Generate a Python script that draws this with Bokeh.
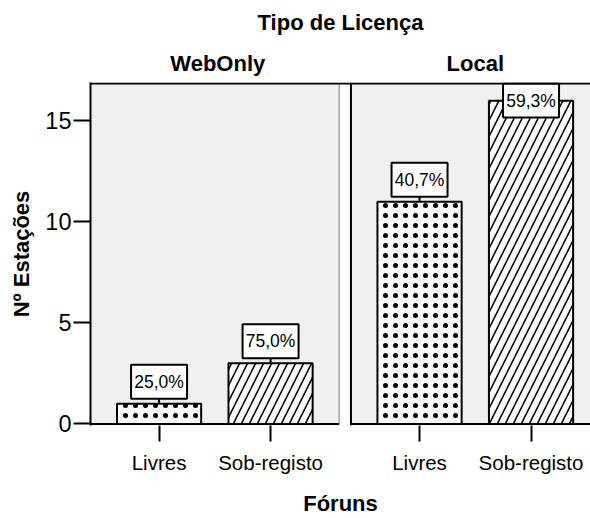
from bokeh.plotting import figure
from bokeh.models import Range1d, FixedTicker, LinearAxis
from bokeh.embed import file_html
from bokeh.resources import INLINE
from bokeh.core.properties import value

# ---------------- data ----------------
licence_types = ["WebOnly", "Local"]
forum_types = ["Livres", "Sob-registo"]
counts = {"WebOnly": [1, 3], "Local": [11, 16]}
percent_labels = {"WebOnly": ["25,0%", "75,0%"], "Local": ["40,7%", "59,3%"]}
y_ticks = [0, 5, 10, 15]

chart_title = "Tipo de Licença"
x_title = "Fóruns"
y_title = "Nº Estações"

# ---------------- layout / style ----------------
PAD = 0.115          # padding at each side of a panel (category units)
GROUP_GAP = 0.336    # gap between the two panels
BAR_W = 0.755
Y_START, Y_END = -0.075, 16.9
FIG_W, FIG_H = 590, 518
BORDER_L, BORDER_T, BORDER_B = 90, 82, 93
FRAME_H = FIG_H - BORDER_T - BORDER_B
PPU_Y = FRAME_H / (Y_END - Y_START)
FRAME_W = FIG_W - BORDER_L
X_START = -PAD
X_END = X_START + FRAME_W / 111.5

FONT = "Liberation Sans"
PANEL_BG = "#f0f0f0"

n_cat = len(forum_types)
panel_offsets = [k * (n_cat + GROUP_GAP) for k in range(len(licence_types))]

p = figure(width=FIG_W, height=FIG_H, output_backend="svg", toolbar_location=None,
           x_range=Range1d(X_START, X_END), y_range=Range1d(Y_START, Y_END),
           min_border_left=BORDER_L, min_border_right=0,
           min_border_top=BORDER_T, min_border_bottom=BORDER_B)
p.outline_line_color = None
p.background_fill_color = PANEL_BG
p.border_fill_color = "white"
p.grid.visible = False

# gap between panels
left_end = panel_offsets[0] + n_cat + PAD
right_start = panel_offsets[1] - PAD
gap_mid = (left_end + right_start) / 2
p.quad(left=[left_end], right=[right_start], bottom=[Y_START - 1], top=[Y_END + 1],
       fill_color="white", line_color=None)

xs_all, names_all = [], []
for k, lic in enumerate(licence_types):
    off = panel_offsets[k]
    xs = [off + i + 0.5 for i in range(n_cat)]
    xs_all += xs
    names_all += forum_types
    vals = counts[lic]
    p.vbar(x=[xs[0]], top=[vals[0]], width=BAR_W, bottom=0, fill_color="white",
           line_color="black", line_width=2, hatch_pattern="dot", hatch_color="black",
           hatch_scale=10, hatch_weight=0.3)
    p.vbar(x=[xs[1]], top=[vals[1]], width=BAR_W, bottom=0, fill_color="white",
           line_color="black", line_width=2, hatch_pattern="right_diagonal_line",
           hatch_color="black", hatch_scale=16, hatch_weight=1.6)
    p.segment(x0=[off - PAD], x1=[off + n_cat + PAD], y0=[0], y1=[0],
              line_color="black", line_width=2)
    gap_px, box_h, box_w = 5, 34, 56
    yc = [min(v + (gap_px + box_h / 2) / PPU_Y, Y_END - (1 + box_h / 2) / PPU_Y) for v in vals]
    p.segment(x0=xs, x1=xs, y0=vals, y1=[v + gap_px / PPU_Y for v in vals],
              line_color="black", line_width=2)
    p.rect(x=xs, y=yc, width=box_w, height=box_h, width_units="screen",
           height_units="screen", fill_color="white", line_color="black", line_width=2)
    p.text(x=xs, y=yc, text=percent_labels[lic], text_align="center",
           text_baseline="middle", text_font=value(FONT), text_font_size="17.5px",
           text_color="black")

# panel borders
p.segment(x0=[left_end], x1=[left_end], y0=[Y_START], y1=[Y_END],
          line_color="#7f7f7f", line_width=1)
p.segment(x0=[right_start], x1=[right_start], y0=[Y_START], y1=[Y_END],
          line_color="black", line_width=2)
p.segment(x0=[X_START], x1=[X_END], y0=[Y_END - 1 / PPU_Y], y1=[Y_END - 1 / PPU_Y],
          line_color="black", line_width=2)

# bottom axis: forum categories
ax = p.xaxis[0]
ax.ticker = FixedTicker(ticks=xs_all)
ax.major_label_overrides = {x: n for x, n in zip(xs_all, names_all)}
ax.axis_line_color = None
ax.major_tick_out = 16
ax.major_tick_in = 0
ax.major_tick_line_width = 2
ax.minor_tick_line_color = None
ax.major_label_text_font = FONT
ax.major_label_text_font_size = "20.5px"
ax.major_label_text_color = "black"
ax.major_label_standoff = 9
ax.axis_label = x_title
ax.axis_label_text_font = FONT
ax.axis_label_text_font_style = "bold"
ax.axis_label_text_font_size = "22px"
ax.axis_label_text_color = "black"
ax.axis_label_standoff = 14

# top axis: panel headers + overall title
header_x = [(X_START + gap_mid) / 2, panel_offsets[1] + n_cat / 2]
top_ax = LinearAxis(ticker=FixedTicker(ticks=header_x),
                    major_label_overrides={x: n for x, n in zip(header_x, licence_types)})
top_ax.axis_line_color = None
top_ax.major_tick_line_color = None
top_ax.minor_tick_line_color = None
top_ax.major_tick_out = 0
top_ax.major_tick_in = 0
top_ax.major_label_text_font = FONT
top_ax.major_label_text_font_style = "bold"
top_ax.major_label_text_font_size = "22px"
top_ax.major_label_text_color = "black"
top_ax.major_label_standoff = 7
top_ax.axis_label = chart_title
top_ax.axis_label_text_font = FONT
top_ax.axis_label_text_font_style = "bold"
top_ax.axis_label_text_font_size = "22px"
top_ax.axis_label_text_color = "black"
top_ax.axis_label_standoff = 13
p.add_layout(top_ax, "above")

# left axis
ay = p.yaxis[0]
ay.ticker = FixedTicker(ticks=y_ticks)
ay.axis_line_width = 2
ay.major_tick_out = 17
ay.major_tick_in = 0
ay.major_tick_line_width = 2
ay.minor_tick_line_color = None
ay.major_label_text_font = FONT
ay.major_label_text_font_size = "23.5px"
ay.major_label_text_color = "black"
ay.major_label_standoff = 2
ay.axis_label = y_title
ay.axis_label_text_font = FONT
ay.axis_label_text_font_style = "bold"
ay.axis_label_text_font_size = "22px"
ay.axis_label_text_color = "black"
ay.axis_label_standoff = 8

open("out.html", "w").write(file_html(p, INLINE))
